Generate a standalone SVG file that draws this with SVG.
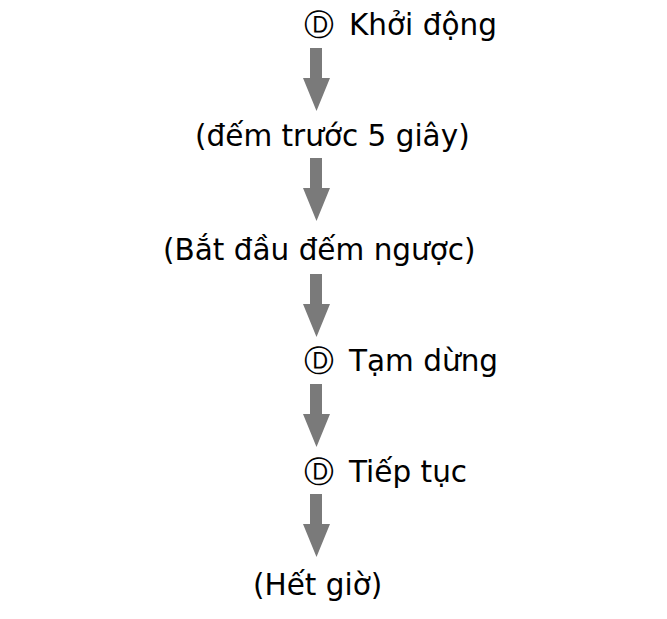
<svg xmlns="http://www.w3.org/2000/svg" width="667" height="619" viewBox="0 0 667 619">
<style>
text{font-family:"DejaVu Sans","Verdana",sans-serif;font-size:29.5px;fill:#000}
.arr{fill:#7a7a7a}
</style>
<defs>
<path id="a" d="M310,0 H322 V30 H330 L316.5,63 L303,30 H310 Z"/>
</defs>
<rect width="667" height="619" fill="#fff"/>
<g id="connectors">
<use href="#a" class="arr" y="48"/>
<use href="#a" class="arr" y="158"/>
<use href="#a" class="arr" y="274"/>
<use href="#a" class="arr" y="384"/>
<use href="#a" class="arr" y="494"/>
</g>
<g id="n1"><text x="304" y="35">Ⓓ</text><text x="349" y="35">Khởi động</text></g>
<g id="n2"><text x="195" y="146">(đếm trước 5 giây)</text></g>
<g id="n3"><text x="163" y="260">(Bắt đầu đếm ngược)</text></g>
<g id="n4"><text x="304" y="371">Ⓓ</text><text x="349" y="371">Tạm dừng</text></g>
<g id="n5"><text x="304" y="482">Ⓓ</text><text x="349" y="482">Tiếp tục</text></g>
<g id="n6"><text x="253" y="595">(Hết giờ)</text></g>
</svg>
